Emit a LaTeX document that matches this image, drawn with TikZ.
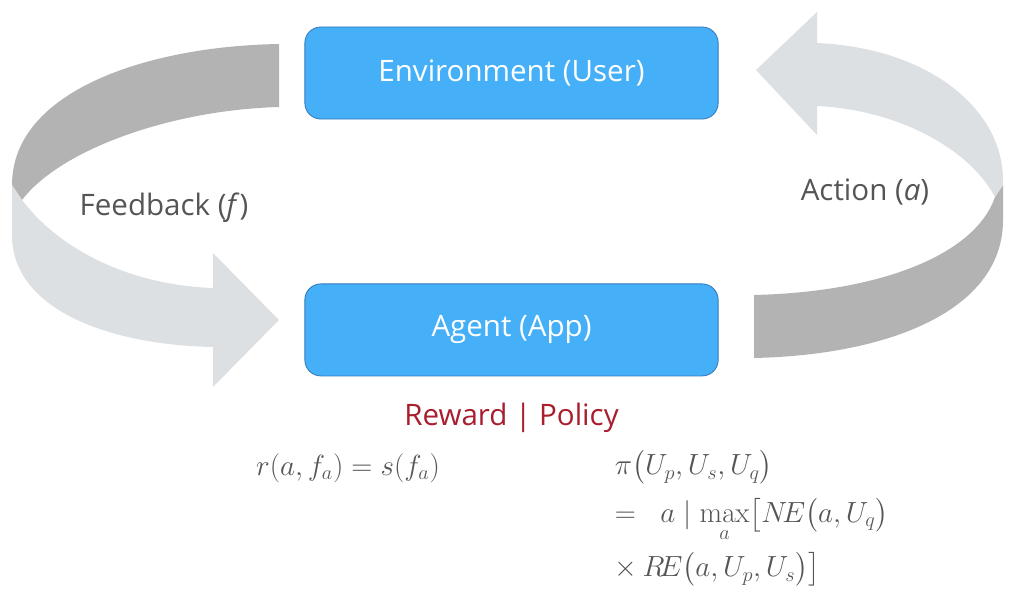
\documentclass[tikz,border=0pt]{standalone}
\usepackage{amsmath,amssymb}
\usepackage{xcolor}
\usepackage[no-math]{fontspec}
\setmainfont{Open Sans}
\usepackage{tikz}
\usetikzlibrary{positioning}
\definecolor{boxblue}{RGB}{69,175,248}
\definecolor{boxline}{RGB}{52,122,190}
\definecolor{ribdark}{RGB}{179,179,179}
\definecolor{riblight}{RGB}{221,224,227}
\definecolor{txtgray}{RGB}{85,85,85}
\definecolor{policyred}{RGB}{168,30,46}

\begin{document}
\begin{tikzpicture}[x=0.025cm,y=-0.025cm,node distance=4.1cm,
                    box/.style={draw=boxline,line width=0.6pt,fill=boxblue,rounded corners=0.4cm,
                                minimum width=10.33cm,minimum height=2.3cm,text=white,
                                font=\fontsize{21}{25}\selectfont},
                    lbl/.style={text=txtgray,font=\fontsize{21}{25}\selectfont},
                    formula/.style={text=txtgray,font=\fontsize{20}{24}\selectfont}]
\useasboundingbox (0,0) rectangle (1020,594);
% ribbons
\fill[ribdark] (279,44) -- (279,107) .. controls (170,110) and (60,150) .. (22,200)
      -- (12,185) .. controls (12,90) and (150,46) .. (279,44) -- cycle;
\fill[riblight] (22,200) .. controls (60,250) and (130,285) .. (213,288) -- (213,253)
      -- (279,320) -- (213,387) -- (213,347) .. controls (110,345) and (12,310) .. (12,235)
      -- (12,185) -- cycle;
\fill[ribdark] (754,358) -- (754,295) .. controls (880,292) and (975,255) .. (995,197)
      -- (1003,185) -- (1003,220) .. controls (1003,310) and (890,355) .. (754,358) -- cycle;
\fill[riblight] (995,197) .. controls (970,150) and (900,110) .. (817,106) -- (817,135)
      -- (756,70) -- (817,12) -- (817,43) .. controls (930,48) and (1003,110) .. (1003,180)
      -- (1003,185) -- cycle;
\node[box] (env) at (511.5,73) {Environment (User)};
\node[box,below = of env] (agent) {Agent (App)};
\node[lbl] (feedback) at (164,208) {Feedback (\textit{f})};
\node[lbl] (action) at (865,192) {Action (\textit{a})};
\node[lbl,text=policyred,below = 0.55cm of agent] (rewpol) {Reward | Policy};
\node[formula] (reward) at (348,468) {$r(a,f_a)=s(f_a)$};
\node[formula,anchor=north west] (policy) at (610,445)
     {$\begin{array}{@{}l@{}}
      \pi\bigl(U_p,U_s,U_q\bigr)\\[9pt]
      =\;\; a\mid \max\limits_a\bigl[N\!E\bigl(a,U_q\bigr)\\[14pt]
      \times\, R\!E\bigl(a,U_p,U_s\bigr)\bigr]
      \end{array}$};
\end{tikzpicture}
\end{document}
